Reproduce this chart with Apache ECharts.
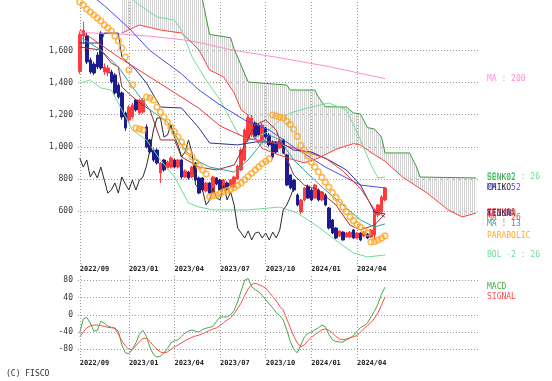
<!DOCTYPE html>
<html><head><meta charset="utf-8">
<script src="https://cdn.jsdelivr.net/npm/echarts@6/dist/echarts.min.js"></script>
<style>html,body{margin:0;padding:0;background:#fff}#c{width:552px;height:381px}</style>
</head><body><div id="c"></div>
<script>
// ---- axis data ----
const weekCount = 114;
const categories = [];
(function(){const d0=Date.UTC(2022,8,26);for(let i=0;i<weekCount;i++){const d=new Date(d0+i*7*864e5);categories.push(d.getUTCFullYear()+'/'+String(d.getUTCMonth()+1).padStart(2,'0')+'/'+String(d.getUTCDate()).padStart(2,'0'));}})();
const tickLabels = ['2022/09','2023/01','2023/04','2023/07','2023/10','2024/01','2024/04'];
const tickIndex = [0,14,27,40,53,66,79];
const priceTicks = [600,800,1000,1200,1400,1600];
const macdTicks = [-80,-40,0,40,80];

// ---- weekly candles [open, close, low, high] ----
const candles = [
[1470,1700,1455,1720],[1690,1725,1640,1780],[1691,1529,1516,1709],[1541,1466,1455,1555],[1516,1460,1448,1530],
[1572,1498,1485,1590],[1709,1491,1479,1720],[1466,1498,1448,1520],[1460,1491,1440,1510],[1466,1404,1395,1480],
[1448,1336,1325,1460],[1385,1311,1300,1400],[1336,1186,1170,1345],[1211,1117,1100,1220],[1167,1248,1150,1260],
[1186,1261,1175,1275],[1292,1230,1220,1300],[1211,1292,1200,1300],[1217,1290,1205,1305],[1124,999,990,1140],
[1043,968,955,1050],[980,918,905,990],[980,899,890,990],[837,899,775,905],[918,856,845,925],
[868,906,860,915],[874,930,865,940],[918,874,866,925],[874,918,865,925],[918,812,800,925],
[812,850,805,860],[843,806,795,850],[812,874,805,880],[899,793,785,905],[806,712,705,815],
[806,731,720,812],[725,775,715,782],[775,712,705,782],[712,812,705,820],[806,768,760,812],
[793,731,725,800],[744,793,735,800],[775,731,725,785],[756,793,745,800],[750,812,740,820],
[800,880,795,890],[856,980,850,990],[918,1105,910,1115],[1043,1180,1030,1195],[1074,1180,1060,1200],
[1149,1061,1050,1160],[1136,1074,1065,1145],[1043,1136,1035,1150],[1117,1061,1050,1125],[1074,1012,1000,1085],
[1030,937,925,1040],[1024,968,955,1035],[993,1043,985,1050],[1043,962,955,1050],[949,762,755,955],
[825,744,735,830],[793,731,720,800],[700,638,630,710],[594,669,580,675],[669,744,660,750],
[756,681,675,765],[731,669,660,740],[681,762,675,770],[731,669,660,740],[669,719,660,725],
[700,638,630,710],[619,494,485,625],[544,463,455,550],[494,432,425,500],[444,476,438,480],
[469,420,415,475],[438,463,432,470],[438,469,430,475],[482,432,425,488],[432,463,428,470],
[463,420,412,468],[444,469,438,475],[457,432,425,462],[438,482,430,488],[451,607,420,615],
[575,638,560,645],[594,688,585,700],[669,744,660,750]
];

// ---- indicator lines, [week index, value] ----
const ma200 = [[0,1712],[10,1705],[20,1690],[30,1665],[34,1650],[43,1605],[57,1555],[71,1500],[87,1425]];
const ma52 = [[0,2000],[7,1880],[14,1740],[20,1600],[29,1455],[34,1354],[40,1261],[47,1167],[54,1105],[61,999],[70,874],[80,762],[87,744]];
const ma26 = [[0,1728],[11,1560],[20,1435],[34,1240],[40,1130],[48,1050],[54,1030],[60,1000],[70,930],[75,850],[80,740],[84,610],[87,560]];
const ma13 = [[0,1685],[6,1603],[11,1498],[15,1373],[20,1230],[25,1155],[29,1012],[32,930],[37,874],[44,843],[48,918],[51,999],[54,1074],[57,1043],[61,918],[66,812],[70,731],[75,638],[80,544],[84,501],[87,520]];
const tenkan = [[0,1622],[6,1603],[9,1522],[11,1498],[12,1373],[16,1292],[20,1230],[23,1043],[27,1043],[29,937],[34,874],[39,856],[44,887],[47,1012],[50,1136],[53,1167],[56,1105],[58,980],[61,825],[64,762],[68,731],[73,638],[77,513],[80,482],[84,513],[87,582]];
const kijun = [[0,1647],[6,1647],[7,1709],[11,1709],[12,1560],[16,1479],[19,1398],[23,1248],[29,1242],[34,1117],[37,1024],[45,1012],[50,1030],[57,1030],[61,980],[66,968],[71,918],[76,856],[80,762],[84,594],[87,582]];
const senko1 = [[12,1709],[17,1759],[23,1728],[29,1709],[32,1647],[34,1603],[37,1479],[41,1435],[44,1336],[46,1230],[48,1198],[49,1086],[52,990],[56,955],[60,925],[64,900],[68,930],[73,985],[78,1020],[80,1012],[83,965],[87,910],[92,812],[99,712],[105,607],[109,563],[113,588]];
const senko2 = [[12,2150],[25,2050],[34,1950],[35,1915],[37,1700],[43,1680],[44,1610],[48,1404],[59,1385],[60,1354],[67,1354],[68,1311],[70,1250],[76,1248],[78,1211],[80,1205],[82,1120],[84,1111],[86,1061],[87,962],[94,962],[96,874],[97,812],[113,806]];
const bolUp = [[0,2100],[11,1990],[17,1884],[22,1809],[27,1790],[29,1728],[32,1560],[36,1417],[40,1292],[45,1086],[48,1043],[53,1086],[57,1167],[60,1211],[66,1248],[71,1273],[76,1230],[80,1043],[83,887],[85,806],[87,812]];
const bolLo = [[0,1398],[3,1417],[6,1367],[9,1354],[12,1230],[15,1105],[19,1043],[23,918],[27,812],[31,650],[34,625],[38,607],[48,607],[57,625],[62,588],[68,501],[74,401],[78,339],[82,314],[87,326]];
const sar = [1903,1884,1859,1840,1822,1803,1784,1759,1741,1722,1691,1660,1616,1560,1479,1385,
 1117,1111,1105,1311,1304,1292,1248,1217,1186,1155,1124,1093,1061,1030,999,968,937,906,881,856,831,
 690,695,700,710,720,728,735,745,760,775,795,815,835,855,875,895,910,925,
 1198,1192,1186,1180,1160,1140,1110,1065,1010,980,945,905,875,845,810,780,750,715,685,655,625,595,565,540,515,500,480,463,
 407,410,420,430,445];
const macd = [-42,-10,-6,-19,-38,-36,-15,-20,-26,-29,-31,-38,-70,-88,-90,-80,-65,-45,-36,-50,-75,-92,-98,-96,-88,-78,-65,-60,-58,-50,-42,-38,-35,-38,-40,-34,-31,-29,-27,-15,-5,-5,-5,0,10,30,55,80,84,65,58,53,45,35,25,16,5,-2,-12,-35,-62,-80,-88,-70,-52,-43,-40,-35,-30,-24,-28,-45,-58,-62,-63,-63,-58,-54,-48,-38,-30,-25,-19,-5,8,25,48,64];
const signal = [-51,-40,-30,-26,-24,-24,-25,-27,-29,-30,-31,-45,-60,-72,-80,-80,-72,-62,-55,-54,-62,-72,-80,-86,-88,-86,-80,-74,-70,-65,-60,-56,-52,-49,-47,-44,-40,-36,-33,-30,-25,-18,-12,-7,2,15,27,45,60,70,73,70,66,62,52,42,32,20,11,-10,-30,-50,-65,-74,-70,-60,-52,-46,-40,-35,-33,-36,-42,-50,-56,-58,-56,-53,-51,-48,-40,-32,-25,-18,-8,5,22,41];

const chikoShift = 26;
const closes = candles.map(c => c[1]);
const chiko = closes.slice(chikoShift).map((v, i) => [i, v]);

// ---- styles ----
const FONT = 'DejaVu Sans Mono';
const C = {
  up:'#ff3b3b', down:'#1c1c8e', ma200:'#ff8ccf', ma52:'#4b4bf0', ma26:'#ee3a3a', ma13:'#35a0a0',
  tenkan:'#9a3030', kijun:'#2f2f8f', senko1:'#ff4040', senko2:'#3a9a3a', bol:'#6fdc95',
  chiko:'#2a2a2a', sar:'#ffa624', macd:'#45a845', signal:'#ff4a4a', grid:'#9a9a9a', text:'#333'
};

const pc = document.createElement('canvas'); pc.width = 2; pc.height = 2;
(function(){const g = pc.getContext('2d'); g.fillStyle = '#d2d2d2'; g.fillRect(0,0,1,2);})();

const isTick = (i) => tickIndex.indexOf(i) >= 0;
const tickFmt = (v, i) => { const k = tickIndex.indexOf(i); return k >= 0 ? tickLabels[k] : ''; };
const gridLineStyle = { color: C.grid, type: [1, 2], width: 1 };
const gridMarks = (vals) => vals.map(v => ({ yAxis: v })).concat(tickIndex.map(i => ({ xAxis: i })));

function xAxisCfg(gi) {
  return { type:'category', gridIndex: gi, data: categories, boundaryGap: true,
    axisLine:{show:false}, axisTick:{show:false}, splitLine:{show:false},
    axisLabel:{ interval: (i) => isTick(i), formatter: tickFmt, fontFamily: FONT, fontSize: 7, fontWeight:'bold', color: '#222', margin: 2, align:'left' } };
}
function lineSeries(name, data, color, extra) {
  return Object.assign({ name, type:'line', xAxisIndex:0, yAxisIndex:0, data, showSymbol:false, symbol:'none',
    lineStyle:{ color, width:1 }, itemStyle:{color}, silent:true, z:3, animation:false }, extra || {});
}

const chart = echarts.init(document.getElementById('c'), null, { renderer:'canvas' });
chart.setOption({
  animation:false,
  backgroundColor:'#fff',
  grid:[ { left:78, top:0, width:400, height:264 }, { left:78, top:275, width:400, height:83 } ],
  xAxis:[ xAxisCfg(0), xAxisCfg(1) ],
  yAxis:[
    { type:'value', gridIndex:0, min:270, max:1915, axisLine:{show:false}, axisTick:{show:false}, splitLine:{show:false},
      axisLabel:{ customValues: priceTicks, formatter:(v)=>Number(v).toLocaleString('en-US'), fontFamily:FONT, fontSize:8, color:C.text, margin:5 } },
    { type:'value', gridIndex:1, min:-100, max:92, axisLine:{show:false}, axisTick:{show:false}, splitLine:{show:false},
      axisLabel:{ customValues: macdTicks, fontFamily:FONT, fontSize:8, color:C.text, margin:5 } }
  ],
  series:[
    { name:'cloud', type:'custom', xAxisIndex:0, yAxisIndex:0, data:[0], silent:true, z:1,
      renderItem:(params, api) => {
        const pts = senko1.map(p => api.coord(p));
        for (let k = senko2.length - 1; k >= 0; k--) pts.push(api.coord(senko2[k]));
        const cs = params.coordSys;
        return { type:'polygon', shape:{ points: pts }, style:{ fill:{ image: pc, repeat:'repeat' }, stroke:null },
          clipPath:{ type:'rect', shape:{ x:cs.x, y:cs.y, width:cs.width, height:cs.height } } };
      } },
    { name:'price', type:'candlestick', xAxisIndex:0, yAxisIndex:0, data:candles, barWidth:3, z:2, silent:true,
      itemStyle:{ color:C.up, color0:C.down, borderColor:C.up, borderColor0:C.down, borderWidth:1 },
      markLine:{ silent:true, symbol:['none','none'], label:{show:false}, lineStyle:gridLineStyle, animation:false, z:0,
        data: gridMarks(priceTicks) } },
    lineSeries('MA : 200', ma200, C.ma200),
    lineSeries('SENKO2', senko2, C.senko2),
    lineSeries('SENKO1', senko1, C.senko1),
    lineSeries('BOL +2 : 26', bolUp, C.bol),
    lineSeries('BOL -2 : 26', bolLo, C.bol),
    lineSeries('MA : 52', ma52, C.ma52),
    lineSeries('KIJUN', kijun, C.kijun),
    lineSeries('TENKAN', tenkan, C.tenkan),
    lineSeries('MA : 26', ma26, C.ma26),
    lineSeries('MA : 13', ma13, C.ma13),
    lineSeries('CHIKO', chiko, C.chiko),
    { name:'PARABOLIC', type:'scatter', xAxisIndex:0, yAxisIndex:0, data: sar.map((v,i)=>[i,v]), symbol:'circle', symbolSize:5.5,
      itemStyle:{ color:'rgba(255,255,255,0)', borderColor:C.sar, borderWidth:1.6 }, z:4, silent:true },
    { name:'MACD', type:'line', xAxisIndex:1, yAxisIndex:1, data: macd, showSymbol:false, symbol:'none', lineStyle:{color:C.macd, width:1}, silent:true,
      markLine:{ silent:true, symbol:['none','none'], label:{show:false}, lineStyle:gridLineStyle, animation:false, data: gridMarks(macdTicks) } },
    { name:'SIGNAL', type:'line', xAxisIndex:1, yAxisIndex:1, data: signal, showSymbol:false, symbol:'none', lineStyle:{color:C.signal, width:1}, silent:true }
  ]
});

// ---- right-hand series labels at each series' last value ----
const last = (a) => Array.isArray(a[a.length-1]) ? a[a.length-1][1] : a[a.length-1];
const labels = [
  ['MA : 200', C.ma200, last(ma200), 0], ['SENKO2', C.senko2, last(senko2), 0], ['BOL +2 : 26', C.bol, last(bolUp), 0],
  ['CHIKO', C.chiko, last(chiko), 0], ['MA : 52', C.ma52, last(ma52), 0],
  ['SENKO1', C.senko1, last(senko1), 0], ['TENKAN', C.tenkan, last(tenkan), 0], ['KIJUN', C.kijun, last(kijun), 0],
  ['MA : 26', C.ma26, last(ma26), 0], ['MA : 13', C.ma13, last(ma13), 0], ['PARABOLIC', C.sar, last(sar), 0],
  ['BOL -2 : 26', C.bol, last(bolLo), 0], ['MACD', C.macd, last(macd), 1], ['SIGNAL', C.signal, last(signal), 1]
];
const g = labels.map(([t, col, v, gi]) => {
  const y = chart.convertToPixel({ xAxisIndex: gi, yAxisIndex: gi }, [0, v])[1];
  return { type:'text', left: 487, top: y - 4, silent:true, style:{ text:t, fill:col, font:'8px "' + FONT + '"' } };
});
g.push({ type:'text', left:6, top:370, silent:true, style:{ text:'(C) FISCO', fill:C.text, font:'8px "' + FONT + '"' } });
chart.setOption({ graphic: g });
</script>
</body></html>
